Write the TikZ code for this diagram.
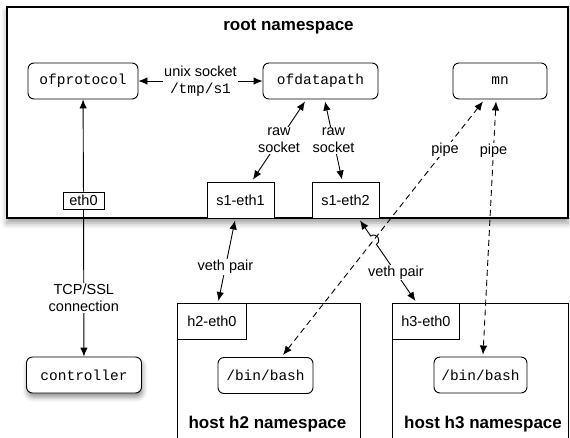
\documentclass[tikz,border=0pt]{standalone}
\usepackage{fontspec}
\setmainfont{Liberation Sans}
\setmonofont{Liberation Mono}
\usepackage{tikz}
\usetikzlibrary{positioning,calc,arrows.meta,shadows.blur,intersections}
\newcommand{\lblfont}{\fontsize{14.5}{17}\selectfont}
\newcommand{\procfont}{\fontsize{14.5}{17}\selectfont\ttfamily}
\newcommand{\nsfont}{\fontsize{17}{20}\selectfont\bfseries}
\tikzset{
	proc/.style={draw, rounded corners=6pt, fill=white, font=\procfont, minimum height=36pt, inner sep=0pt, line width=0.9pt},
	iface/.style={draw, fill=white, font=\lblfont, inner sep=0pt, line width=0.9pt},
	nsbox/.style={draw, fill=white, inner sep=0pt, line width=0.9pt},
	lbl/.style={fill=white, font=\lblfont, align=center, inner sep=1pt},
	link/.style={{Latex[length=9pt,width=7.5pt]}-{Latex[length=9pt,width=7.5pt]}, line width=0.9pt},
	uplink/.style={-{Latex[length=9pt,width=7.5pt]}, line width=0.9pt},
	pipeline/.style={link, dash pattern=on 6pt off 4pt}
}

\begin{document}
\begin{tikzpicture}[x=1pt,y=-1pt]
	\useasboundingbox (0,0) rectangle (570,437);
	\clip (0,0) rectangle (570,437);
	
	%root namespace
	\node[nsbox, line width=1.3pt, minimum width=561pt, minimum height=211pt,
	blur shadow={shadow xshift=0pt, shadow yshift=-5pt, shadow blur radius=6pt, shadow opacity=40}] (root) at (287.5,112.5) {};
	\node[font=\nsfont] (rootT) at (288.5,27) {root namespace};
	
	%processus
	\node[proc, minimum width=110pt] (ofp) at (83,81) {ofprotocol};
	\node[proc, minimum width=115pt] (ofd) at (320.5,81) {ofdatapath};
	\node[proc, minimum width=94pt] (mn) at (500,81) {mn};
	
	%interfaces du switch
	\node[iface, minimum width=41pt, minimum height=17pt] (eth0) at (83.5,200.5) {eth0};
	\node[iface, minimum width=67pt, minimum height=36pt] (s1e1) at (240.5,200) {s1-eth1};
	\node[iface, minimum width=67pt, minimum height=36pt] (s1e2) at (345.5,200) {s1-eth2};
	
	%controleur
	\node[proc, minimum width=115pt,
	blur shadow={shadow xshift=1pt, shadow yshift=-4pt, shadow blur radius=5pt, shadow opacity=45}] (ctrl) at (84,375) {controller};
	
	%hotes
	\node[nsbox, minimum width=183pt, minimum height=142pt, anchor=north west] (h2) at (177,303) {};
	\node[iface, minimum width=69pt, minimum height=36pt, anchor=north west] (h2e0) at (h2.north west) {h2-eth0};
	\node[proc, minimum width=95pt] (bashA) at (265.5,375.5) {/bin/bash};
	\node[font=\nsfont] (h2T) at (267.5,424) {host h2 namespace};
	
	\node[nsbox, minimum width=176pt, minimum height=142pt, anchor=north west] (h3) at (392,303) {};
	\node[iface, minimum width=67pt, minimum height=36pt, anchor=north west] (h3e0) at (h3.north west) {h3-eth0};
	\node[proc, minimum width=93pt] (bashB) at (480.5,375) {/bin/bash};
	\node[font=\nsfont] (h3T) at (483,424) {host h3 namespace};
	
	%liens
	\draw[link] (ofp) -- node[lbl]{unix socket\\\texttt{/tmp/s1}} (ofd);
	\draw[uplink] (eth0) -- (ofp);
	\draw[uplink] (eth0) -- node[lbl, pos=0.6]{TCP/SSL\\connection} (ctrl);
	
	\draw[link] ([xshift=-15.5pt,yshift=-2pt]ofd.south) -- node[lbl]{raw\\socket} ([xshift=12.5pt,yshift=2pt]s1e1.north);
	\draw[link] ([xshift=4.5pt,yshift=-2pt]ofd.south) -- node[lbl]{raw\\socket} ([xshift=-3.5pt,yshift=2pt]s1e2.north);
	
	%pipes
	\draw[pipeline, name path=pipeA] ([xshift=-17pt,yshift=-2pt]mn.south) -- node[lbl, pos=0.19]{pipe} ([xshift=17.5pt,yshift=2pt]bashA.north);
	\draw[pipeline] ([xshift=-4pt,yshift=-2pt]mn.south) -- node[lbl, pos=0.195]{pipe} ([xshift=2.5pt,yshift=2pt]bashB.north);
	
	%veth
	\draw[link] ([xshift=-5.5pt,yshift=-2pt]s1e1.south) -- node[lbl, pos=0.58]{veth pair} ([xshift=6.5pt,yshift=2pt]h2e0.north);
	
	\coordinate (v2a) at ([xshift=14.5pt,yshift=-2pt]s1e2.south);
	\coordinate (v2b) at ([xshift=-10.5pt,yshift=2pt]h3e0.north);
	\path[name path=vethB] (v2a) -- (v2b);
	\path[name intersections={of=pipeA and vethB, by=hop}];
	\coordinate (hopA) at ($(hop)!5pt!(v2a)$);
	\coordinate (hopB) at ($(hop)!5pt!(v2b)$);
	\draw[link] (v2a) -- (hopA) .. controls ($(hopA)!7pt!90:(hopB)$) and ($(hopB)!7pt!-90:(hopA)$) .. (hopB) -- node[lbl, pos=0.5]{veth pair} (v2b);
	
\end{tikzpicture}
\end{document}
